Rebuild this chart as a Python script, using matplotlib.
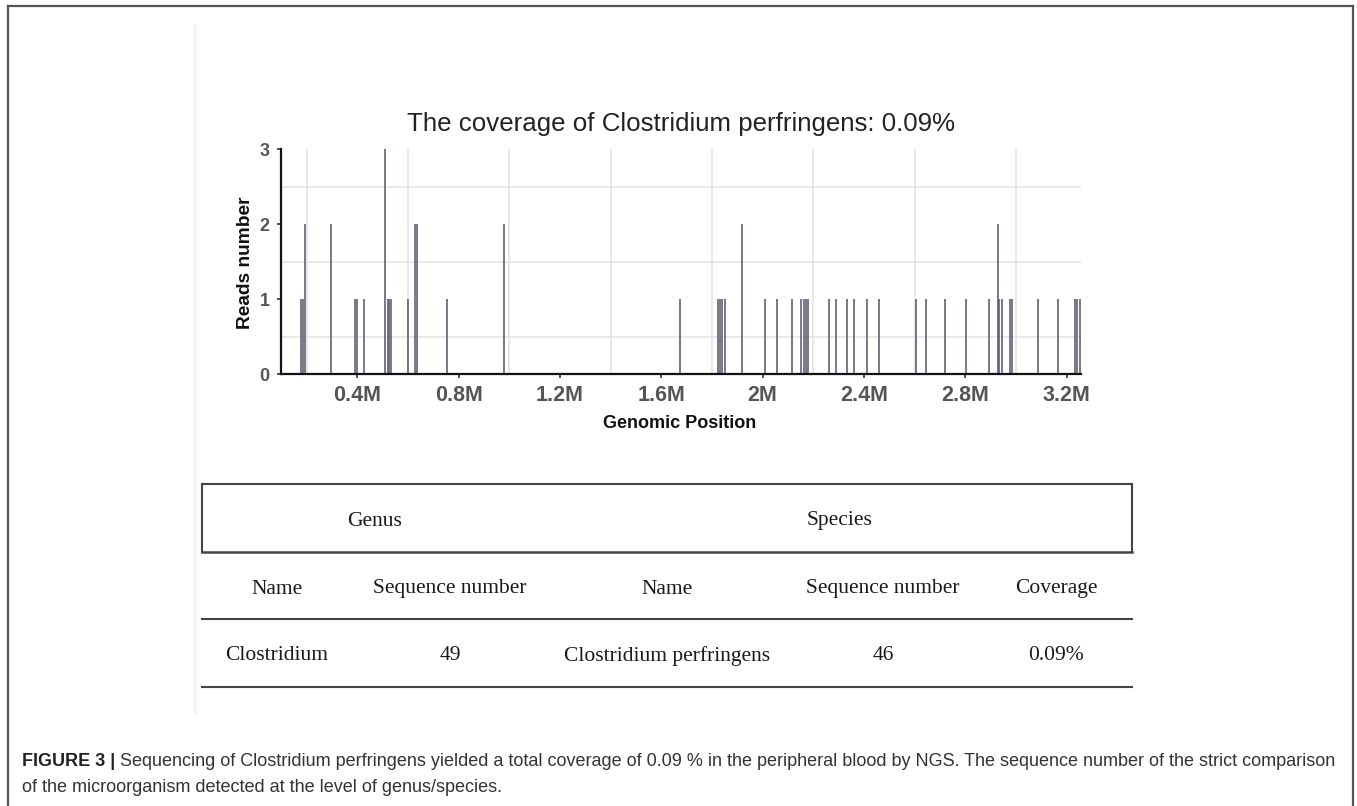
import matplotlib
matplotlib.use("Agg")
import matplotlib.pyplot as plt
from matplotlib.lines import Line2D

# ---------------- data ----------------
positions_M = [0.176, 0.186, 0.193, 0.295, 0.391, 0.399, 0.426, 0.511, 0.522, 0.527,
               0.533, 0.599, 0.628, 0.637, 0.753, 0.980, 1.674, 1.823, 1.832, 1.841,
               1.851, 1.919, 2.010, 2.058, 2.115, 2.150, 2.164, 2.172, 2.180, 2.262,
               2.288, 2.332, 2.362, 2.413, 2.460, 2.606, 2.644, 2.720, 2.803, 2.894,
               2.931, 2.934, 2.946, 2.977, 2.986, 3.088, 3.167, 3.233, 3.242, 3.253]
reads = [1, 1, 2, 2, 1, 1, 1, 3, 1, 1,
         1, 1, 2, 2, 1, 2, 1, 1, 1, 1,
         1, 2, 1, 1, 1, 1, 1, 1, 1, 1,
         1, 1, 1, 1, 1, 1, 1, 1, 1, 1,
         2, 1, 1, 1, 1, 1, 1, 1, 1, 1]
x_ticks = [0.4, 0.8, 1.2, 1.6, 2.0, 2.4, 2.8, 3.2]
y_ticks = [0, 1, 2, 3]
title = "The coverage of Clostridium perfringens: 0.09%"

group_header = ["Genus", "Species"]
col_header = ["Name", "Sequence number", "Name", "Sequence number", "Coverage"]
row_values = ["Clostridium", "49", "Clostridium perfringens", "46", "0.09%"]

caption_bold = "FIGURE 3 |"
caption_line1 = ("Sequencing of Clostridium perfringens yielded a total coverage of 0.09 % in the "
                 "peripheral blood by NGS. The sequence number of the strict comparison")
caption_line2 = "of the microorganism detected at the level of genus/species."

# ---------------- figure ----------------
W, H = 1357, 806
fig = plt.figure(figsize=(W / 100, H / 100), dpi=100)
fig.patch.set_facecolor("white")

# background overlay in pixel coordinates
bg = fig.add_axes([0, 0, 1, 1], zorder=0)
bg.set_xlim(0, W)
bg.set_ylim(H, 0)
bg.axis("off")

# outer frame (top, left, right)
frame_c = "#555555"
bg.add_line(Line2D([8, 1353], [6, 6], color=frame_c, lw=1.6))
bg.add_line(Line2D([8, 8], [6, H], color=frame_c, lw=1.6))
bg.add_line(Line2D([1353, 1353], [6, H], color=frame_c, lw=1.6))

# faint edge of embedded picture
bg.add_patch(plt.Rectangle((193, 24), 4, 691, color="#f6f6f6", lw=0))

# ---------------- chart ----------------
L, R, T, B = 280.7, 1081.0, 149.3, 374.0
ax = fig.add_axes([L / W, 1 - B / H, (R - L) / W, (B - T) / H], zorder=2)
ax.set_facecolor("none")
ax.set_xlim(0.0976, 3.257)
ax.set_ylim(0, 3)

# minor grid only
for gy in [0.5, 1.5, 2.5]:
    ax.axhline(gy, color="#e4e4e4", lw=1.2, zorder=0)
for gx in [0.2, 0.6, 1.0, 1.4, 1.8, 2.2, 2.6, 3.0]:
    ax.axvline(gx, color="#e4e4e4", lw=1.2, zorder=0)

ax.vlines(positions_M, 0, reads, color="#5a5a70", lw=1.15, zorder=2)

for s in ["top", "right"]:
    ax.spines[s].set_visible(False)
for s in ["left", "bottom"]:
    ax.spines[s].set_color("#111111")
    ax.spines[s].set_linewidth(1.6)
    ax.spines[s].set_zorder(3)

ax.set_xticks(x_ticks)
ax.set_xticklabels([f"{v:g}M" for v in x_ticks])
ax.set_yticks(y_ticks)
ax.set_yticklabels([str(v) for v in y_ticks])
ax.tick_params(axis="x", length=3, width=1.2, color="#333333", pad=5)
ax.tick_params(axis="y", length=3, width=1.2, color="#333333", pad=5)
for lab in ax.get_xticklabels():
    lab.set_fontfamily("Liberation Sans")
    lab.set_fontweight("bold")
    lab.set_fontsize(15.5)
    lab.set_color("#555555")
for lab in ax.get_yticklabels():
    lab.set_fontfamily("Liberation Sans")
    lab.set_fontweight("bold")
    lab.set_fontsize(13)
    lab.set_color("#555555")

# title and axis labels (pixel positions)
bg.text(681, 124, title, ha="center", va="center", fontsize=18.6,
        family="Liberation Sans", color="#222222")
bg.text(245, 263, "Reads number", ha="center", va="center", rotation=90,
        fontsize=13.8, family="Liberation Sans", weight="bold", color="#111111")
bg.text(680, 423, "Genomic Position", ha="center", va="center",
        fontsize=13, family="Liberation Sans", weight="bold", color="#111111")

# ---------------- table ----------------
tc = "#444444"
tl, tr = 201.7, 1131.6
y_top, y_h1, y_h2, y_bot = 484.3, 551.7, 619.3, 686.7
bg.add_line(Line2D([tl, tr], [y_top, y_top], color=tc, lw=1.5))
bg.add_line(Line2D([tl, tl], [y_top, y_h1], color=tc, lw=1.5))
bg.add_line(Line2D([tr, tr], [y_top, y_h1], color=tc, lw=1.5))
bg.add_line(Line2D([tl, tr], [y_h1, y_h1], color=tc, lw=1.8))
bg.add_line(Line2D([tl, tr], [y_h2, y_h2], color=tc, lw=1.5))
bg.add_line(Line2D([tl, tr], [y_bot, y_bot], color=tc, lw=1.5))

tfont = dict(family="Liberation Serif", fontsize=15.5, color="#1a1a1a",
             ha="center", va="center")
for txt, x in zip(group_header, [375, 840]):
    bg.text(x, 521, txt, **tfont)
col_x = [277, 450, 667, 883, 1056]
for txt, x in zip(col_header, col_x):
    bg.text(x, 589, txt, **tfont)
for txt, x in zip(row_values, col_x):
    bg.text(x, 656, txt, **tfont)

# ---------------- caption ----------------
cap_fs = 13.0
tb = bg.text(22, 761, caption_bold + " ", ha="left", va="center", fontsize=cap_fs,
             family="Liberation Sans", weight="bold", color="#222222")
fig.canvas.draw()
rend = fig.canvas.get_renderer()
bb = tb.get_window_extent(renderer=rend)
bg.text(22 + bb.width, 761, caption_line1, ha="left", va="center", fontsize=cap_fs,
        family="Liberation Sans", color="#333333")
bg.text(22, 787, caption_line2, ha="left", va="center", fontsize=cap_fs,
        family="Liberation Sans", color="#333333")

fig.savefig("out.png", dpi=100, facecolor="white")
